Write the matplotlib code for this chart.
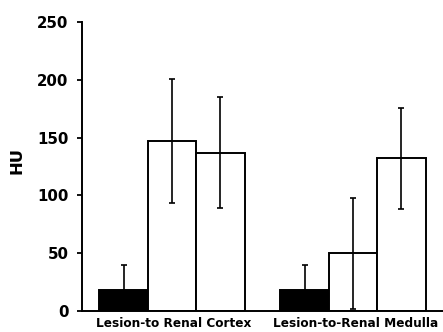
import matplotlib.pyplot as plt
import numpy as np

# datos
grupos = ['Lesion-to Renal Cortex', 'Lesion-to-Renal Medulla']
medias = [[18, 147, 137], [18, 50, 132]]
errores = [[22, 54, 48], [22, 48, 44]]
colores = ['black', 'white', 'white']

plt.rcParams['font.family'] = ['DejaVu Sans']

fig = plt.figure(figsize=(4.43, 3.32), dpi=100)
ax = fig.add_axes([82 / 443, 21 / 332, 1 - 82 / 443, 289 / 332])

ancho = 1.0
centros = [0, 3.74]
for g, c in enumerate(centros):
    xs = c + np.arange(-1, 2) * ancho
    ax.bar(xs, medias[g], width=ancho, color=colores, edgecolor='black',
           linewidth=1.4, zorder=2)
    ax.errorbar(xs, medias[g], yerr=errores[g], fmt='none', ecolor='black',
                elinewidth=1.2, capsize=2, capthick=1.2, zorder=3)

ax.set_xlim(-1.86, 5.6)
ax.set_ylim(0, 250)
ax.set_yticks([0, 50, 100, 150, 200, 250])
ax.tick_params(axis='y', direction='out', length=3.6, width=1.3, labelsize=10.8, pad=6)
for t in ax.get_yticklabels():
    t.set_fontweight('bold')
# etiquetas de grupo (la segunda se corre un poco para que quepa)
ax.set_xticks([0.04, 3.8])
ax.set_xticklabels(grupos, fontsize=8.7, fontweight='bold')
ax.tick_params(axis='x', length=0, pad=4)
for s in ['top', 'right']:
    ax.spines[s].set_visible(False)
for s in ['left', 'bottom']:
    ax.spines[s].set_linewidth(1.4)
ax.set_ylabel('HU', fontsize=11.8, fontweight='bold')
ax.yaxis.set_label_coords(-0.158, 0.52)

fig.savefig('out.png', dpi=100)
